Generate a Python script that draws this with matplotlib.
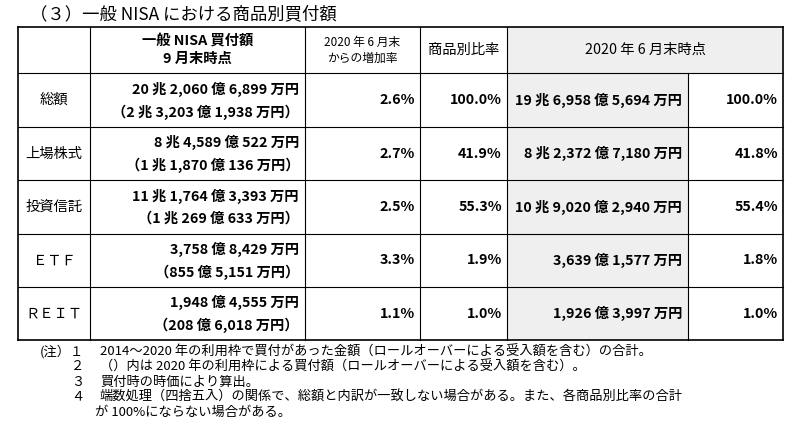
import matplotlib.pyplot as plt
from matplotlib.patches import Rectangle

plt.rcParams["font.family"] = "Noto Sans CJK JP"

title = "（３）一般 NISA における商品別買付額"
categories = ["総額", "上場株式", "投資信託", "ＥＴＦ", "ＲＥＩＴ"]
amount_sep = ["20 兆 2,060 億 6,899 万円", "8 兆 4,589 億 522 万円", "11 兆 1,764 億 3,393 万円",
              "3,758 億 8,429 万円", "1,948 億 4,555 万円"]
amount_2020 = ["（2 兆 3,203 億 1,938 万円）", "（1 兆 1,870 億 136 万円）", "（1 兆 269 億 633 万円）",
               "（855 億 5,151 万円）", "（208 億 6,018 万円）"]
growth = ["2.6%", "2.7%", "2.5%", "3.3%", "1.1%"]
share_sep = ["100.0%", "41.9%", "55.3%", "1.9%", "1.0%"]
amount_jun = ["19 兆 6,958 億 5,694 万円", "8 兆 2,372 億 7,180 万円", "10 兆 9,020 億 2,940 万円",
              "3,639 億 1,577 万円", "1,926 億 3,997 万円"]
share_jun = ["100.0%", "41.8%", "55.4%", "1.8%", "1.0%"]
notes = [
    ("(注）１", "2014～2020 年の利用枠で買付があった金額（ロールオーバーによる受入額を含む）の合計。"),
    ("２", "（）内は 2020 年の利用枠による買付額（ロールオーバーによる受入額を含む）。"),
    ("３", "買付時の時価により算出。"),
    ("４", "端数処理（四捨五入）の関係で、総額と内訳が一致しない場合がある。また、各商品別比率の合計"),
    ("", "が 100%にならない場合がある。"),
]

fig = plt.figure(figsize=(8, 4.29), dpi=100)
ax = fig.add_axes([0, 0, 1, 1])
ax.set_xlim(0, 800)
ax.set_ylim(429, 0)
ax.axis("off")

xs = [18, 90, 305, 420, 507, 688, 783]
ys = [27, 73, 127, 180, 234, 287, 340]
shade = "#efefef"

ax.text(30, 14, title, fontsize=12.5, va="center", ha="left")

# shaded regions
ax.add_patch(Rectangle((xs[4], ys[0]), xs[6] - xs[4], ys[1] - ys[0], color=shade, lw=0))
ax.add_patch(Rectangle((xs[4], ys[1]), xs[5] - xs[4], ys[6] - ys[1], color=shade, lw=0))

# grid lines
for y in ys:
    ax.plot([xs[0], xs[6]], [y, y], color="black", lw=1.2 if y in (ys[0], ys[-1]) else 0.8)
for i, x in enumerate(xs):
    y0 = ys[1] if i == 5 else ys[0]
    ax.plot([x, x], [y0, ys[-1]], color="black", lw=1.2 if i in (0, 6) else 0.8)

fs = 10.3
# headers
ax.text((xs[1] + xs[2]) / 2, 50, "一般 NISA 買付額\n9 月末時点", fontsize=fs, ha="center", va="center",
        fontweight="bold", linespacing=1.25)
ax.text((xs[2] + xs[3]) / 2, 50, "2020 年 6 月末\nからの増加率", fontsize=8.5, ha="center", va="center",
        linespacing=1.3)
ax.text((xs[3] + xs[4]) / 2, 50, "商品別比率", fontsize=fs, ha="center", va="center")
ax.text((xs[4] + xs[6]) / 2, 50, "2020 年 6 月末時点", fontsize=fs, ha="center", va="center")

for i, cat in enumerate(categories):
    top, bot = ys[i + 1], ys[i + 2]
    mid = (top + bot) / 2
    ax.text((xs[0] + xs[1]) / 2, mid, cat, fontsize=fs, ha="center", va="center")
    ax.text(xs[2] - 6, mid - 11, amount_sep[i], fontsize=fs, ha="right", va="center", fontweight="bold")
    ax.text(xs[2] - 6, mid + 12, amount_2020[i], fontsize=fs, ha="right", va="center", fontweight="bold")
    ax.text(xs[3] - 5, mid, growth[i], fontsize=fs, ha="right", va="center", fontweight="bold")
    ax.text(xs[4] - 5, mid, share_sep[i], fontsize=fs, ha="right", va="center", fontweight="bold")
    ax.text(xs[5] - 6, mid, amount_jun[i], fontsize=fs, ha="right", va="center", fontweight="bold")
    ax.text(xs[6] - 5, mid, share_jun[i], fontsize=fs, ha="right", va="center", fontweight="bold")

for k, (num, txt) in enumerate(notes):
    y = 352 + k * 15
    ax.text(84, y, num, fontsize=9.5, ha="right", va="center")
    ax.text(100 if num else 95, y, txt, fontsize=9.5, ha="left", va="center")

fig.savefig("out.png", dpi=100)
